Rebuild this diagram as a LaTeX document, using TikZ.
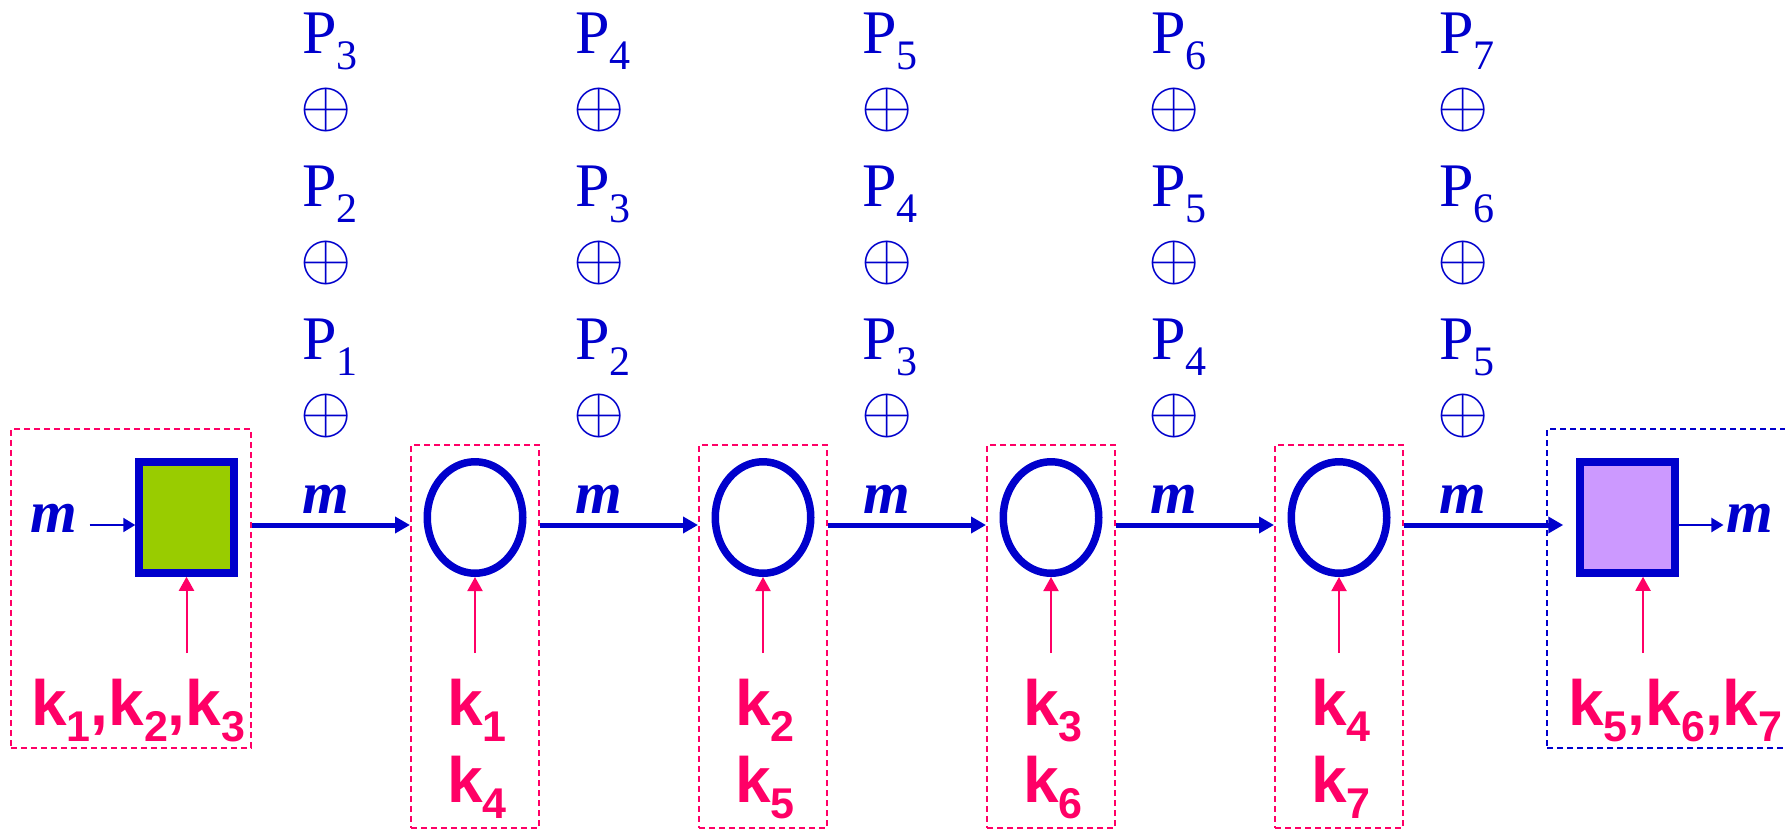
\documentclass[tikz,border=0pt]{standalone}
\usepackage{fontspec}
\usetikzlibrary{arrows.meta,shapes.geometric}
\newfontfamily\tms{Liberation Serif}
\newfontfamily\arl{Liberation Sans}
\definecolor{blu}{RGB}{0,0,204}
\definecolor{pnk}{RGB}{255,0,102}
\definecolor{grn}{RGB}{153,204,0}
\definecolor{prp}{RGB}{204,153,255}
\newcommand{\Psub}[1]{P\raisebox{-16pt}{\fontsize{42}{42}\selectfont #1}}
\newcommand{\ksub}[1]{k\raisebox{-16pt}{\fontsize{43}{43}\selectfont #1}}
\newcommand{\xorsym}{\scalebox{6.6}{$\oplus$}}
\tikzset{
  ptxt/.style={text=blu, font=\tms\fontsize{62}{74}\selectfont, inner sep=0pt, anchor=base west},
  opl/.style={text=blu, inner sep=0pt, anchor=center},
  mlab/.style={text=blu, font=\tms\bfseries\itshape\fontsize{60}{72}\selectfont, inner sep=0pt, anchor=base},
  klab/.style={text=pnk, font=\arl\bfseries\fontsize{64}{77}\selectfont, inner sep=0pt},
  stagebox/.style={draw=pnk, line width=2pt, dash pattern=on 6pt off 4pt, minimum width=128pt, minimum height=383pt, inner sep=0pt},
  ring/.style={ellipse, draw=blu, line width=7.5pt, minimum width=95.5pt, minimum height=111.5pt, inner sep=0pt},
  cipher/.style={rectangle, draw=blu, line width=7.5pt, minimum width=95pt, minimum height=111pt, inner sep=0pt},
  mainarrow/.style={draw=blu, line width=5pt, -{Triangle[length=15pt,width=16pt]}},
  thinarrow/.style={draw=blu, line width=2pt, -{Triangle[length=12pt,width=14pt]}},
  keyarrow/.style={draw=pnk, line width=2pt, -{Triangle[length=14pt,width=15pt]}}
}
\begin{document}
\begin{tikzpicture}[x=1pt,y=-1pt]
\useasboundingbox (0,0) rectangle (1785,830);
\coordinate (ay) at (0,525);
\coordinate (kt) at (0,653);
\coordinate (kp) at (1643,653);

% dashed group boxes
\node[stagebox, minimum width=240pt, minimum height=319pt] (gL) at (131,588.5) {};
\node[stagebox, draw=blu, minimum width=250pt, minimum height=319pt] (gR) at (1672,588.5) {};
\foreach \i/\x in {1/475,2/763,3/1051,4/1339} {
  \node[stagebox] (b\i) at (\x,636.5) {};
  \node[ring] (e\i) at (\x,517.5) {};
}
\node[cipher, fill=grn] (sqL) at (186.5,517.5) {};
\node[cipher, fill=prp] (sqR) at (1627.5,517.5) {};

% m labels
\node[mlab] (mIn) at (54,532) {m};
\node[mlab] (mOut) at (1750,532) {m};
\foreach \i/\x in {1/326,2/599,3/887,4/1174,5/1463}
  \node[mlab] (m\i) at (\x,513) {m};

% P / xor columns
\foreach \c/\px/\ox in {1/302/326,2/575/599,3/862/887,4/1151/1174,5/1439/1463} {
  \pgfmathtruncatemacro\pa{\c+2}
  \pgfmathtruncatemacro\pb{\c+1}
  \node[ptxt] (p\c-1) at (\px,53) {\Psub{\pa}};
  \node[opl] (o\c-1) at (\ox,110) {\xorsym};
  \node[ptxt] (p\c-2) at (\px,206) {\Psub{\pb}};
  \node[opl] (o\c-2) at (\ox,262.5) {\xorsym};
  \node[ptxt] (p\c-3) at (\px,359) {\Psub{\c}};
  \node[opl] (o\c-3) at (\ox,416) {\xorsym};
}

% key labels
\node[klab, anchor=base west] (kL) at (31,725) {\ksub{1},\ksub{2},\ksub{3}};
\node[klab, anchor=base west] (kR) at (1568,725) {\ksub{5},\ksub{6},\ksub{7}};
\foreach \i/\x/\u/\v in {1/477/1/4,2/765/2/5,3/1053/3/6,4/1341/4/7} {
  \node[klab, anchor=base] (k\i-1) at (\x,725) {\ksub{\u}};
  \node[klab, anchor=base] (k\i-2) at (\x,802) {\ksub{\v}};
}

% connectors
\draw[thinarrow, shorten <=12pt] (mIn.east |- ay) -- (sqL.west |- ay);
\draw[mainarrow] (gL.east |- ay) -- (b1.west |- ay);
\draw[mainarrow] (b1.east |- ay) -- (b2.west |- ay);
\draw[mainarrow] (b2.east |- ay) -- (b3.west |- ay);
\draw[mainarrow] (b3.east |- ay) -- (b4.west |- ay);
\draw[mainarrow, shorten >=13pt] (b4.east |- ay) -- (sqR.west |- ay);
\draw[thinarrow, shorten >=3pt] (sqR.east |- ay) -- (mOut.west |- ay);

\draw[keyarrow] (sqL.south |- kt) -- (sqL.south);
\foreach \i in {1,2,3,4}
  \draw[keyarrow] (e\i.south |- kt) -- (e\i.south);
\draw[keyarrow] (kp) -- (kp |- sqR.south);
\end{tikzpicture}
\end{document}
